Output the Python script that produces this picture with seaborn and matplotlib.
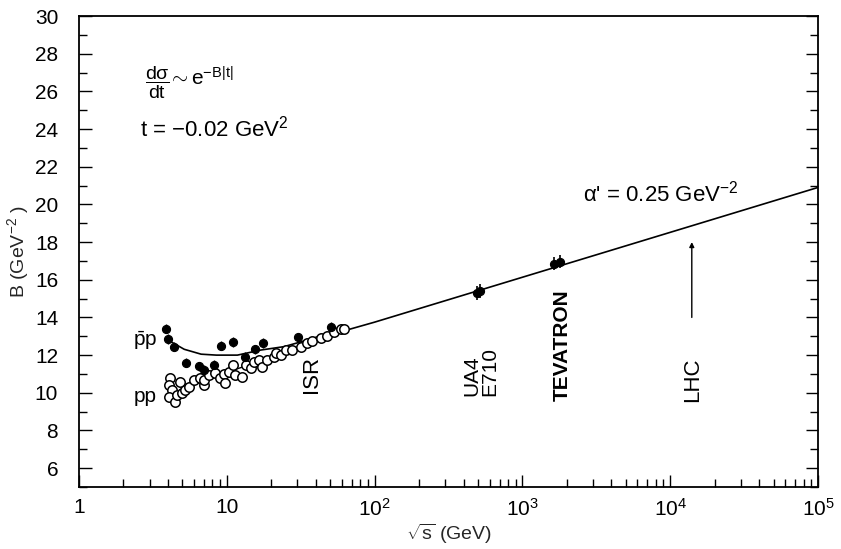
import matplotlib
matplotlib.use("Agg")
import matplotlib.pyplot as plt
import seaborn as sns
import pandas as pd
import numpy as np
from matplotlib.ticker import FixedLocator, FixedFormatter, LogLocator, NullFormatter, MultipleLocator

# ---------------- data ----------------
pbarp_sqrt_s = [3.9, 4.0, 4.4, 5.3, 6.5, 7.0, 8.2, 9.2, 11.1, 13.2, 15.4, 17.5, 30.3, 50.5]
pbarp_B      = [13.4, 12.85, 12.45, 11.6, 11.4, 11.2, 11.5, 12.5, 12.7, 11.9, 12.3, 12.65, 12.95, 13.5]

pp_sqrt_s = [4.14, 4.04, 4.25, 4.04, 4.48, 4.6, 4.84, 5.0, 5.24, 5.52, 5.96, 6.62, 6.97, 7.0,
             7.54, 8.37, 9.05, 9.5, 9.78, 10.3, 11.1, 11.4, 12.7, 13.4, 14.5, 15.2, 16.4,
             17.3, 18.7, 20.8, 21.5, 23.1, 25.0, 27.7, 31.6, 35.1, 38.0, 43.2, 48.0, 53.1,
             59.0, 62.0]
pp_B      = [10.77, 10.41, 10.15, 9.79, 9.53, 9.9, 10.59, 10.0, 10.15, 10.33, 10.68, 10.77, 10.41, 10.7,
             10.94, 11.03, 10.77, 11.0, 10.5, 11.12, 11.47, 10.94, 10.85, 11.47, 11.3, 11.65, 11.74,
             11.38, 11.74, 11.92, 12.1, 12.0, 12.27, 12.27, 12.45, 12.63, 12.75, 12.89, 13.0, 13.24,
             13.37, 13.4]

ua4_sqrt_s = [490, 520]
ua4_B      = [15.3, 15.4]
tev_sqrt_s = [1630, 1800]
tev_B      = [16.85, 16.95]

# fitted curves
fit_sqrt_s = [4.0, 5.15, 6.7, 8.5, 11.8, 17.0, 24.4, 35.0, 45.0, 59.0, 100.0, 1.0e5]
fit_B      = [12.8, 12.31, 12.05, 12.0, 12.0, 12.27, 12.45, 12.8, 13.07, 13.24, 13.75, 20.9]
ppfit_sqrt_s = [5.0, 10.0, 20.0, 40.0, 59.0]
ppfit_B      = [10.4, 11.1, 11.85, 12.7, 13.24]

lhc_sqrt_s = 14000
lhc_B = [14.0, 18.0]

xtick_vals = [1, 10, 100, 1000, 10000, 100000]
xtick_labels = ["1", "10", "$10^{2}$", "$10^{3}$", "$10^{4}$", "$10^{5}$"]
ytick_vals = [6, 8, 10, 12, 14, 16, 18, 20, 22, 24, 26, 28, 30]

# ---------------- style ----------------
sns.set_theme(style="ticks")
plt.rcParams['font.family'] = ['Liberation Sans', 'DejaVu Sans']
plt.rcParams['mathtext.fontset'] = 'custom'
plt.rcParams['mathtext.rm'] = 'Liberation Sans'
plt.rcParams['mathtext.it'] = 'Liberation Sans'
plt.rcParams['mathtext.bf'] = 'Liberation Sans:bold'

fig = plt.figure(figsize=(8.41, 5.49), dpi=100)
ax = fig.add_axes([79/841, 62/549, 739/841, 471/549])

df_fit = pd.DataFrame({"s": fit_sqrt_s, "B": fit_B})
df_ppfit = pd.DataFrame({"s": ppfit_sqrt_s, "B": ppfit_B})
sns.lineplot(data=df_fit, x="s", y="B", color="black", lw=1.2, ax=ax, zorder=2, sort=False)
sns.lineplot(data=df_ppfit, x="s", y="B", color="black", lw=1.0, ax=ax, zorder=2, sort=False)

# error bars
ax.errorbar(pbarp_sqrt_s, pbarp_B, yerr=0.25, fmt="none", ecolor="black", elinewidth=1, zorder=3)
ax.errorbar(ua4_sqrt_s + tev_sqrt_s, ua4_B + tev_B, yerr=0.35, fmt="none", ecolor="black",
            elinewidth=1.2, zorder=3)

df_pp = pd.DataFrame({"s": pp_sqrt_s, "B": pp_B})
sns.scatterplot(data=df_pp, x="s", y="B", marker="o", s=46, facecolor="white",
                edgecolor="black", linewidth=1.1, ax=ax, zorder=4)
df_pb = pd.DataFrame({"s": pbarp_sqrt_s, "B": pbarp_B})
sns.scatterplot(data=df_pb, x="s", y="B", marker="o", s=34, color="black",
                edgecolor="black", linewidth=0.8, ax=ax, zorder=5)
df_col = pd.DataFrame({"s": ua4_sqrt_s + tev_sqrt_s, "B": ua4_B + tev_B})
sns.scatterplot(data=df_col, x="s", y="B", marker="o", s=34, color="black",
                edgecolor="black", linewidth=0.8, ax=ax, zorder=5)

ax.annotate("", xy=(lhc_sqrt_s, lhc_B[1]), xytext=(lhc_sqrt_s, lhc_B[0]),
            arrowprops=dict(arrowstyle="-|>", color="black", lw=1.0, mutation_scale=7,
                            shrinkA=0, shrinkB=0))

# ---------------- axes ----------------
ax.set_xscale("log")
ax.set_xlim(1, 1e5)
ax.set_ylim(5, 30)
ax.xaxis.set_major_locator(FixedLocator(xtick_vals))
ax.xaxis.set_major_formatter(FixedFormatter(xtick_labels))
ax.xaxis.set_minor_locator(LogLocator(base=10, subs=np.arange(2, 10), numticks=20))
ax.xaxis.set_minor_formatter(NullFormatter())
ax.yaxis.set_major_locator(FixedLocator(ytick_vals))
ax.yaxis.set_minor_locator(MultipleLocator(1))

ax.tick_params(axis="both", which="both", direction="in", top=False, right=True,
               labelsize=15, width=1.0, color="black", labelcolor="black")
ax.tick_params(axis="both", which="major", length=9)
ax.tick_params(axis="both", which="minor", length=6)
ax.tick_params(axis="x", which="major", pad=8)
ax.tick_params(axis="y", which="major", pad=15)
for sp in ax.spines.values():
    sp.set_visible(True)
    sp.set_linewidth(1.3)
    sp.set_color("black")

ax.set_xlabel(r"$\sqrt{s}$ (GeV)", fontsize=14, labelpad=1)
ax.set_ylabel(r"B (GeV$^{-2}$ )", fontsize=14, labelpad=3)

# ---------------- annotations ----------------
tk = dict(transform=ax.transAxes, color="black")
ax.text(0.089, 0.31, r"$\bar{\mathrm{p}}$p", fontsize=15, ha="center", va="center", **tk)
ax.text(0.089, 0.193, "pp", fontsize=15, ha="center", va="center", **tk)
ax.text(0.089, 0.858, r"$\dfrac{\mathrm{d}\sigma}{\mathrm{dt}}$",
        fontsize=14, ha="left", va="center", **tk)
ax.text(0.121, 0.868, r"$\sim$e$^{-\mathrm{B|t|}}$",
        fontsize=15, ha="left", va="center", **tk)
ax.text(0.083, 0.762, "t = \u22120.02 GeV$^{2}$", fontsize=16, ha="left", va="center", **tk)
ax.text(0.682, 0.624, "\u03b1' = 0.25 GeV$^{-2}$", fontsize=16, ha="left", va="center", **tk)
ax.text(0.315, 0.238, "ISR", fontsize=16, rotation=90, ha="center", va="center", **tk)
ax.text(0.544, 0.245, "UA4\nE710", fontsize=15, rotation=90, ha="center", va="center",
        multialignment="left", linespacing=0.95, **tk)
ax.text(0.654, 0.301, "TEVATRON", fontsize=15, fontweight="bold", rotation=90,
        ha="center", va="center", **tk)
ax.text(0.831, 0.227, "LHC", fontsize=16, rotation=90, ha="center", va="center", **tk)

fig.savefig("out.png", dpi=100)
